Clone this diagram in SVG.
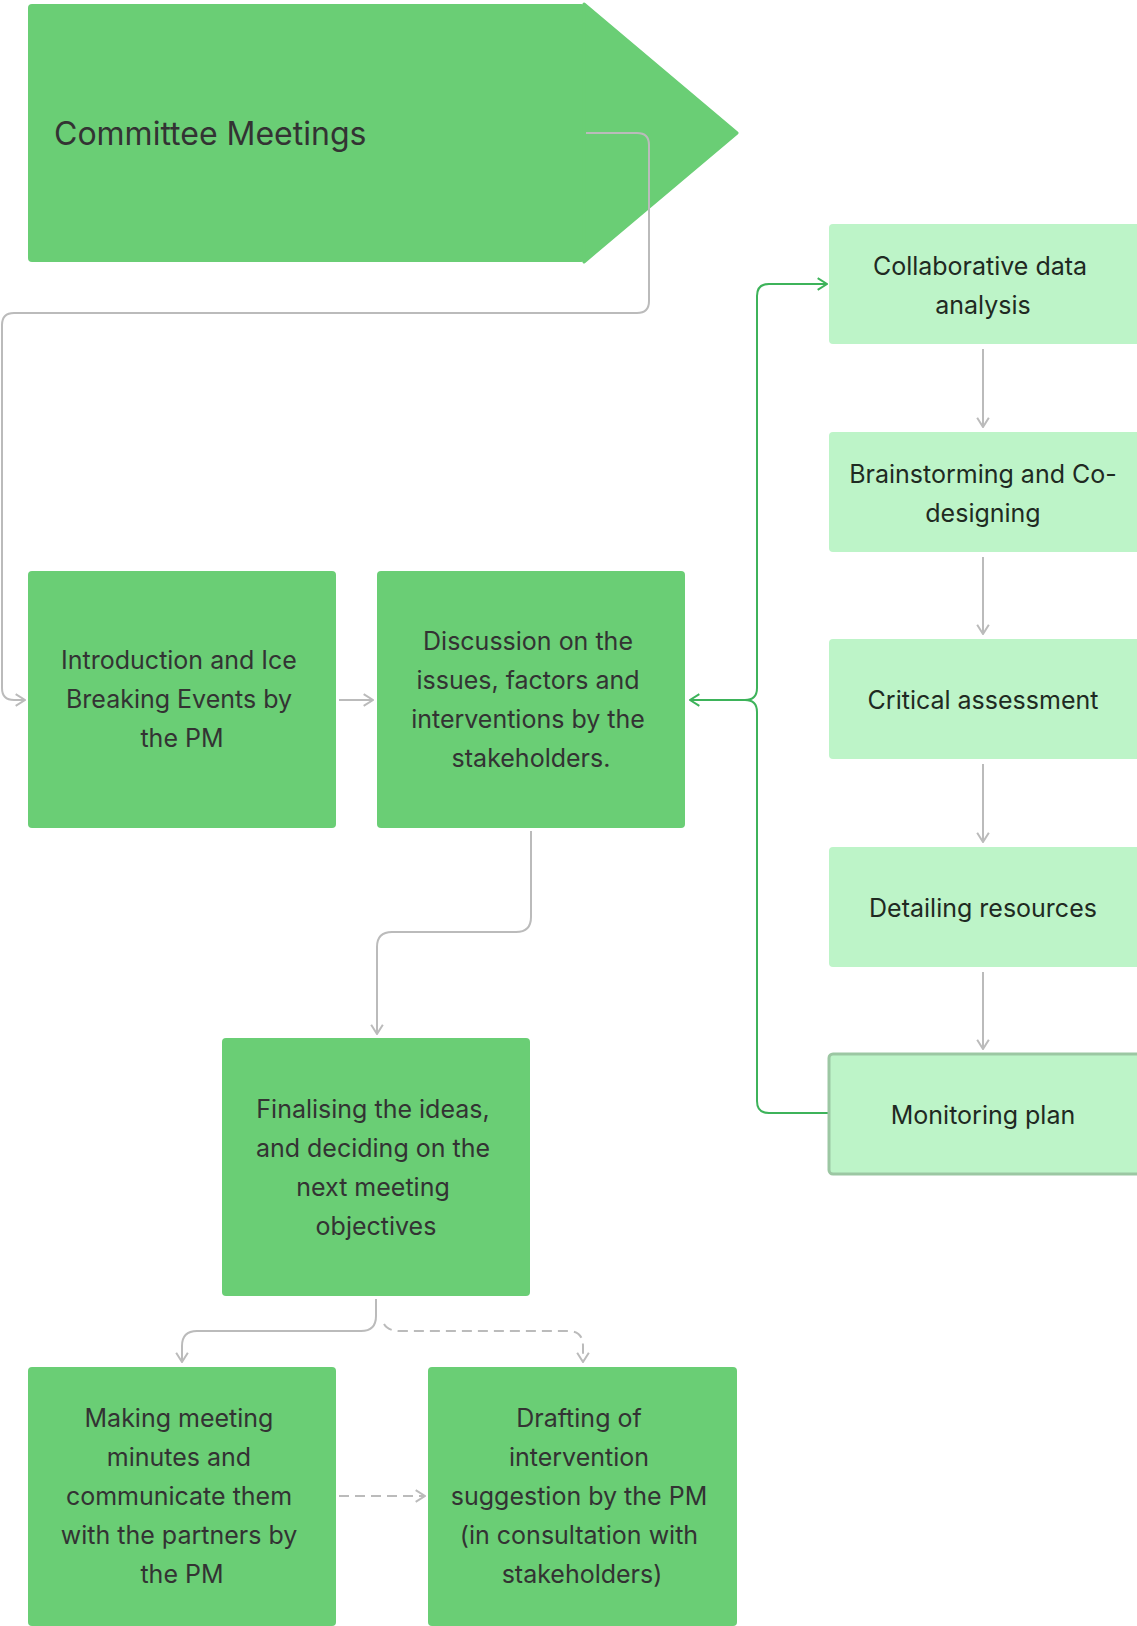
<svg xmlns="http://www.w3.org/2000/svg" width="1137" height="1626" viewBox="0 0 1137 1626">
<defs>
<style>
.n{fill:#6ACE75}
.l{fill:#BDF4C8}
.t{font-family:Inter,"Liberation Sans",sans-serif;font-size:25px;fill:#333333;text-anchor:middle}
.tr{font-family:Inter,"Liberation Sans",sans-serif;font-size:25px;fill:#1F2A22;text-anchor:middle}
.g{fill:none;stroke:#BBBBBB;stroke-width:2}
.gd{fill:none;stroke:#BBBBBB;stroke-width:2;stroke-dasharray:10 6}
.gr{fill:none;stroke:#3DB35A;stroke-width:2}
</style>
<marker id="ag" viewBox="0 0 12 12" refX="11" refY="6" markerWidth="14" markerHeight="14" markerUnits="userSpaceOnUse" orient="auto"><path d="M3,1 L11,6 L3,11" fill="none" stroke="#BBBBBB" stroke-width="1.7"/></marker>
<marker id="agr" viewBox="0 0 12 12" refX="11" refY="6" markerWidth="14" markerHeight="14" markerUnits="userSpaceOnUse" orient="auto"><path d="M3,1 L11,6 L3,11" fill="none" stroke="#3DB35A" stroke-width="1.7"/></marker>
</defs>
<rect width="1137" height="1626" fill="#FFFFFF"/>
<g id="committee">
<rect class="n" x="28" y="4" width="557" height="258" rx="4"/>
<polygon class="n" points="584,4 737,133 584,262" stroke="#6ACE75" stroke-width="3" stroke-linejoin="round"/>
<text x="54" y="145" font-family="Inter,'Liberation Sans',sans-serif" font-size="32" fill="#333333">Committee Meetings</text>
</g>
<g id="connectors">
<path class="g" d="M586,133 H637 Q649,133 649,145 V301 Q649,313 637,313 H14 Q2,313 2,325 V688 Q2,700 14,700 H25" marker-end="url(#ag)"/>
<path class="g" d="M339,700 H373" marker-end="url(#ag)"/>
<path class="g" d="M531,831 V917 Q531,932 516,932 H392 Q377,932 377,947 V1034" marker-end="url(#ag)"/>
<path class="g" d="M376,1299 V1316 Q376,1331 361,1331 H197 Q182,1331 182,1346 V1362" marker-end="url(#ag)"/>
<path class="gd" d="M384,1324 Q388,1331 400,1331 H568 Q583,1331 583,1346 V1362" marker-end="url(#ag)"/>
<path class="gd" d="M339,1496 H425" marker-end="url(#ag)"/>
<path class="g" d="M983,349 V427" marker-end="url(#ag)"/>
<path class="g" d="M983,557 V634" marker-end="url(#ag)"/>
<path class="g" d="M983,764 V842" marker-end="url(#ag)"/>
<path class="g" d="M983,972 V1049" marker-end="url(#ag)"/>
<path class="gr" d="M745,700 H690" marker-end="url(#agr)"/>
<path class="gr" d="M745,700 Q757,700 757,688 V296 Q757,284 769,284 H827" marker-end="url(#agr)"/>
<path class="gr" d="M745,700 Q757,700 757,712 V1101 Q757,1113 769,1113 H829"/>
</g>
<g id="intro">
<rect class="n" x="28" y="571" width="308" height="257" rx="4"/>
<text class="t"><tspan x="179" y="669">Introduction and Ice</tspan><tspan x="179" y="708">Breaking Events by</tspan><tspan x="182" y="747">the PM</tspan></text>
</g>
<g id="discussion">
<rect class="n" x="377" y="571" width="308" height="257" rx="4"/>
<text class="t"><tspan x="528" y="650">Discussion on the</tspan><tspan x="528" y="689">issues, factors and</tspan><tspan x="528" y="728">interventions by the</tspan><tspan x="531" y="767">stakeholders.</tspan></text>
</g>
<g id="finalising">
<rect class="n" x="222" y="1038" width="308" height="258" rx="4"/>
<text class="t"><tspan x="373" y="1118">Finalising the ideas,</tspan><tspan x="373" y="1157">and deciding on the</tspan><tspan x="373" y="1196">next meeting</tspan><tspan x="376" y="1235">objectives</tspan></text>
</g>
<g id="minutes">
<rect class="n" x="28" y="1367" width="308" height="259" rx="4"/>
<text class="t"><tspan x="179" y="1427">Making meeting</tspan><tspan x="179" y="1466">minutes and</tspan><tspan x="179" y="1505">communicate them</tspan><tspan x="179" y="1544">with the partners by</tspan><tspan x="182" y="1583">the PM</tspan></text>
</g>
<g id="drafting">
<rect class="n" x="428" y="1367" width="309" height="259" rx="4"/>
<text class="t"><tspan x="579" y="1427">Drafting of</tspan><tspan x="579" y="1466">intervention</tspan><tspan x="579" y="1505">suggestion by the PM</tspan><tspan x="579" y="1544">(in consultation with</tspan><tspan x="582" y="1583">stakeholders)</tspan></text>
</g>
<g id="collab">
<rect class="l" x="829" y="224" width="312" height="120" rx="4"/>
<text class="tr"><tspan x="980" y="275">Collaborative data</tspan><tspan x="983" y="314">analysis</tspan></text>
</g>
<g id="brainstorm">
<rect class="l" x="829" y="432" width="312" height="120" rx="4"/>
<text class="tr"><tspan x="983" y="483">Brainstorming and Co-</tspan><tspan x="983" y="522">designing</tspan></text>
</g>
<g id="critical">
<rect class="l" x="829" y="639" width="312" height="120" rx="4"/>
<text class="tr"><tspan x="983" y="709">Critical assessment</tspan></text>
</g>
<g id="detailing">
<rect class="l" x="829" y="847" width="312" height="120" rx="4"/>
<text class="tr"><tspan x="983" y="917">Detailing resources</tspan></text>
</g>
<g id="monitoring">
<rect class="l" x="829" y="1054" width="312" height="120" rx="4" stroke="#9CC7A3" stroke-width="3"/>
<text class="tr"><tspan x="983" y="1124">Monitoring plan</tspan></text>
</g>
</svg>
